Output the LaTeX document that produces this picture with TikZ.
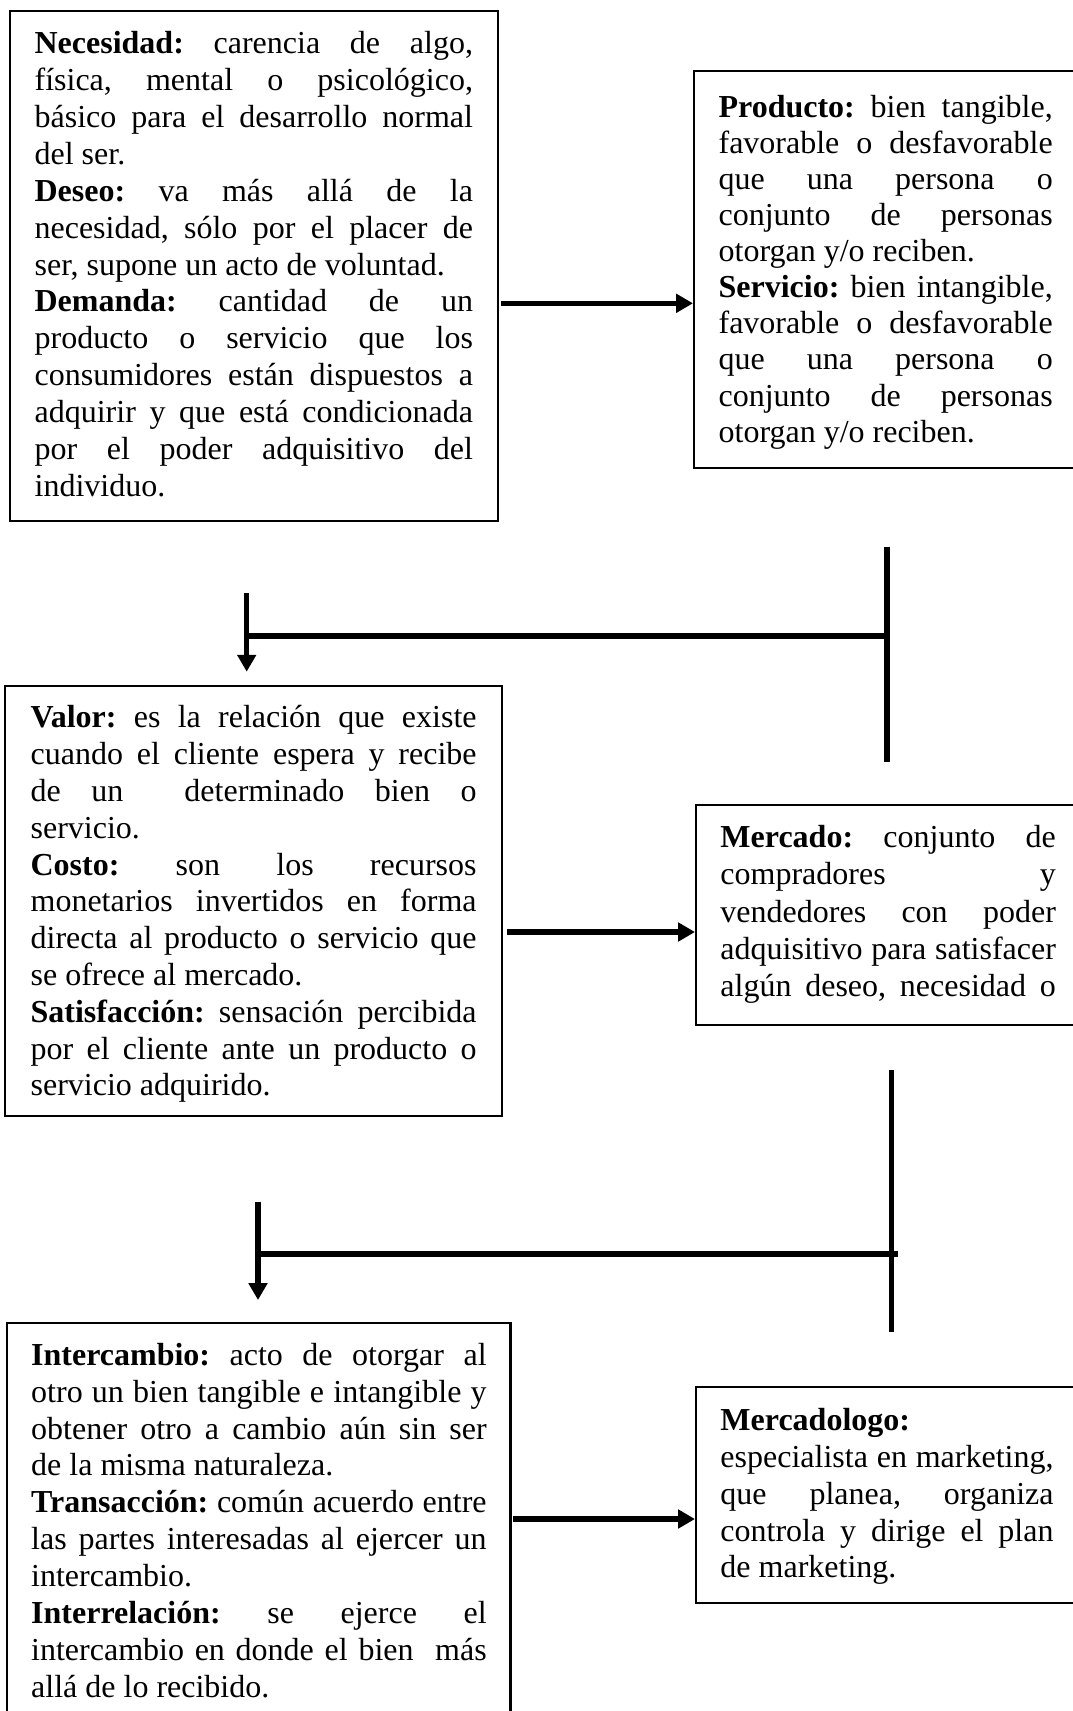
\documentclass[tikz,border=0pt]{standalone}
\usepackage{fontspec}
\setmainfont{Liberation Serif}
\usetikzlibrary{arrows.meta}

% one justified line, and one left-aligned (paragraph-ending) line
\newcommand{\jline}[1]{\noindent\makebox[\linewidth][s]{\rule{0pt}{10pt}#1}\par}
\newcommand{\lline}[1]{\noindent\makebox[\linewidth][l]{\rule{0pt}{10pt}#1}\par}
% #1 text width, #2 box height, #3 first baseline from top, #4 baselineskip, #5 lines
\newcommand{\cardtext}[5]{\parbox[c][#2][t]{#1}{\fontsize{12pt}{#4}\selectfont\frenchspacing
  \vspace*{\dimexpr #3-10pt\relax}#5}}

\tikzset{
  card/.style={draw, rectangle, line width=0.9pt, inner ysep=0pt, anchor=north west},
  arr/.style={line width=1.9pt, -{Triangle[length=6.3pt,width=6.8pt]}},
  vbar/.style={line width=1.9pt},
  hbar/.style={line width=2.25pt},
}

\begin{document}
\begin{tikzpicture}[x=0.375pt, y=-0.375pt]
\path[use as bounding box] (0,0) rectangle (1073,1711);
\fill[white] (0,0) rectangle (1073,1711);
\clip (0,0) rectangle (1073,1711);

% ---- definition boxes ----
\node[card, inner xsep=9.34pt] (n1) at (8.5,9.5) {\cardtext{164.4pt}{191.4pt}{16.1pt}{13.84pt}{%
  \jline{\textbf{Necesidad:} carencia de algo,}
  \jline{física, mental o psicológico,}
  \jline{básico para el desarrollo normal}
  \lline{del ser.}
  \jline{\textbf{Deseo:} va más allá de la}
  \jline{necesidad, sólo por el placer de}
  \lline{ser, supone un acto de voluntad.}
  \jline{\textbf{Demanda:} cantidad de un}
  \jline{producto o servicio que los}
  \jline{consumidores están dispuestos a}
  \jline{adquirir y que está condicionada}
  \jline{por el poder adquisitivo del}
  \lline{individuo.}}};

\node[card, inner xsep=9.15pt] (n2) at (693,70) {\cardtext{125.3pt}{148.7pt}{17.25pt}{13.54pt}{%
  \jline{\textbf{Producto:} bien tangible,}
  \jline{favorable o desfavorable}
  \jline{que una persona o}
  \jline{conjunto de personas}
  \lline{otorgan y/o reciben.}
  \jline{\textbf{Servicio:} bien intangible,}
  \jline{favorable o desfavorable}
  \jline{que una persona o}
  \jline{conjunto de personas}
  \lline{otorgan y/o reciben.}}};

\node[card, inner xsep=9.53pt] (n3) at (4,685) {\cardtext{167.25pt}{161.25pt}{15.64pt}{13.8pt}{%
  \jline{\textbf{Valor:} es la relación que existe}
  \jline{cuando el cliente espera y recibe}
  \jline{de un\ \ determinado bien o}
  \lline{servicio.}
  \jline{\textbf{Costo:} son los recursos}
  \jline{monetarios invertidos en forma}
  \jline{directa al producto o servicio que}
  \lline{se ofrece al mercado.}
  \jline{\textbf{Satisfacción:} sensación percibida}
  \jline{por el cliente ante un producto o}
  \lline{servicio adquirido.}}};

\node[card, inner xsep=9.1pt] (n4) at (695,804) {\cardtext{125.8pt}{82.5pt}{16.0pt}{13.9pt}{%
  \jline{\textbf{Mercado:} conjunto de}
  \jline{compradores y}
  \jline{vendedores con poder}
  \jline{adquisitivo para satisfacer}
  \jline{algún deseo, necesidad o}}};

\node[card, inner xsep=9pt] (n5) at (6,1322) {\cardtext{170.8pt}{161.25pt}{15.75pt}{13.84pt}{%
  \jline{\textbf{Intercambio:} acto de otorgar al}
  \jline{otro un bien tangible e intangible y}
  \jline{obtener otro a cambio aún sin ser}
  \lline{de la misma naturaleza.}
  \jline{\textbf{Transacción:} común acuerdo entre}
  \jline{las partes interesadas al ejercer un}
  \lline{intercambio.}
  \jline{\textbf{Interrelación:} se ejerce el}
  \jline{intercambio en donde el bien\ \ más}
  \lline{allá de lo recibido.}}};

\node[card, inner xsep=9.1pt] (n6) at (695,1386) {\cardtext{124.9pt}{80.9pt}{16.24pt}{13.82pt}{%
  \lline{\textbf{Mercadologo:}}
  \jline{especialista en marketing,}
  \jline{que planea, organiza}
  \jline{controla y dirige el plan}
  \lline{de marketing.}}};

% ---- horizontal arrows ----
\coordinate (a1) at (501,303.3);
\draw[arr] (a1) -- (a1 -| n2.west);
\coordinate (a2) at (506.5,932);
\draw[arr] (a2) -- (a2 -| n4.west);
\coordinate (a3) at (513.3,1519);
\draw[arr] (a3) -- (a3 -| n6.west);

% ---- first return connector ----
\coordinate (t1top) at (887,546.7);
\coordinate (t1bot) at (887,762);
\coordinate (t1j) at (887,635.5);
\coordinate (d1) at (246.7,593);
\draw[vbar] (t1top) -- (t1bot);
\draw[hbar] (t1j) -- (d1 |- t1j);
\draw[arr, shorten >=5pt] (d1) -- (d1 |- n3.north);

% ---- second return connector ----
\coordinate (t2top) at (891.5,1070);
\coordinate (t2bot) at (891.5,1331.7);
\coordinate (t2r) at (898,1254);
\coordinate (d2) at (258,1201.7);
\draw[vbar] (t2top) -- (t2bot);
\draw[hbar] (t2r) -- (d2 |- t2r);
\draw[arr, shorten >=8.25pt] (d2) -- (d2 |- n5.north);
\end{tikzpicture}
\end{document}
